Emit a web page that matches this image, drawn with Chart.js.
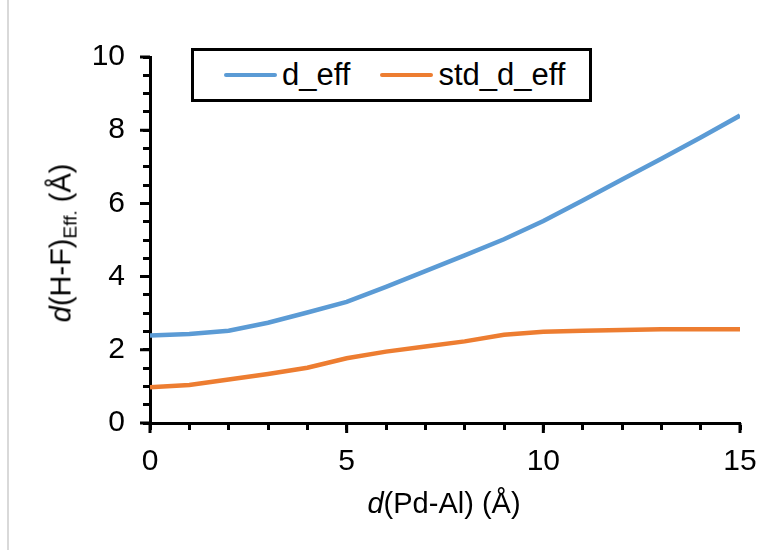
<!DOCTYPE html>
<html>
<head>
<meta charset="utf-8">
<script src="https://cdn.jsdelivr.net/npm/chart.js@4"></script>
<style>
  html, body { margin: 0; padding: 0; background: #fff; }
  #wrap { position: relative; width: 781px; height: 550px; font-family: "Liberation Sans", Arial, sans-serif; }
  #wrap::before { content: ""; position: absolute; left: 7px; top: 0; width: 2px; height: 550px; background: #d9d9d9; }
  #legend { position: absolute; left: 191px; top: 48px; width: 395px; height: 48px; border: 3px solid #000; background: #fff;
            display: flex; align-items: center; font-size: 31px; color: #000; }
  #legend .item { display: flex; align-items: center; margin-left: 30px; }
  #legend .item + .item { margin-left: 30px; }
  #legend .swatch { width: 53px; height: 4px; margin-right: 5px; border-radius: 2px; }
  .axis-title { position: absolute; font-size: 29px; color: #000; white-space: nowrap; }
  #xTitle { left: 444px; top: 503px; transform: translate(-50%, -50%); }
  #yTitle { left: 63px; top: 243px; transform: translate(-50%, -50%) rotate(-90deg); }
  #yTitle sub { font-size: 19px; vertical-align: -6px; }
</style>
</head>
<body>
<div id="wrap">
  <canvas id="grafico" width="781" height="550"></canvas>
  <div id="legend"></div>
  <div class="axis-title" id="xTitle"><i>d</i>(Pd-Al) (Å)</div>
  <div class="axis-title" id="yTitle"><i>d</i>(H-F)<sub>Eff.</sub> (Å)</div>
</div>
<script>
// distances along Pd-Al (Å)
const distancias = [0, 1, 2, 3, 4, 5, 6, 7, 8, 9, 10, 11, 12, 13, 14, 15];
const dEff = [2.39, 2.43, 2.52, 2.74, 3.02, 3.31, 3.72, 4.15, 4.58, 5.02, 5.52, 6.08, 6.65, 7.22, 7.8, 8.4];
const stdDEff = [0.98, 1.04, 1.19, 1.34, 1.51, 1.77, 1.95, 2.09, 2.23, 2.41, 2.49, 2.52, 2.54, 2.56, 2.56, 2.56];

// labelled (major) ticks
const xMajor = [0, 5, 10, 15];
const yMajor = [0, 2, 4, 6, 8, 10];

const series = [
  { label: "d_eff", data: dEff, color: "#5B9BD5" },
  { label: "std_d_eff", data: stdDEff, color: "#ED7D31" }
];

// major ticks a bit longer than the minor ones
const majorTicks = {
  id: "majorTicks",
  afterDraw(chart) {
    const { ctx, scales: { x, y } } = chart;
    ctx.save();
    ctx.strokeStyle = "#000";
    ctx.lineWidth = 3;
    ctx.beginPath();
    xMajor.forEach(v => {
      const px = x.getPixelForValue(v);
      ctx.moveTo(px, y.bottom);
      ctx.lineTo(px, y.bottom + 10);
    });
    yMajor.forEach(v => {
      const py = y.getPixelForValue(v);
      ctx.moveTo(x.left, py);
      ctx.lineTo(x.left - 10, py);
    });
    ctx.stroke();
    ctx.restore();
  }
};

const fonte = { family: "'Liberation Sans', Arial, sans-serif", size: 30 };

const chart = new Chart(document.getElementById("grafico"), {
  type: "line",
  data: {
    datasets: series.map(s => ({
      label: s.label,
      data: distancias.map((d, i) => ({ x: d, y: s.data[i] })),
      borderColor: s.color,
      backgroundColor: s.color,
      borderWidth: 4.5,
      pointRadius: 0,
      tension: 0,
      fill: false
    }))
  },
  options: {
    responsive: false,
    animation: false,
    layout: { padding: { top: 57, right: 41, left: 0, bottom: 0 } },
    plugins: { legend: { display: false }, tooltip: { enabled: false } },
    scales: {
      x: {
        type: "linear",
        min: 0,
        max: 15,
        afterFit: s => { s.height = 127; },
        ticks: {
          stepSize: 1,
          autoSkip: false,
          maxRotation: 0,
          color: "#000",
          font: fonte,
          padding: 14,
          callback: v => xMajor.includes(v) ? String(v) : ""
        },
        grid: { drawOnChartArea: false, drawTicks: true, tickLength: 7, tickWidth: 3, tickColor: "#000" },
        border: { color: "#000", width: 3 }
      },
      y: {
        min: 0,
        max: 10,
        afterFit: s => { s.width = 150; },
        ticks: {
          stepSize: 0.5,
          autoSkip: false,
          color: "#000",
          font: fonte,
          padding: 18,
          callback: v => yMajor.includes(v) ? String(v) : ""
        },
        grid: { drawOnChartArea: false, drawTicks: true, tickLength: 7, tickWidth: 3, tickColor: "#000" },
        border: { color: "#000", width: 3 }
      }
    }
  },
  plugins: [majorTicks]
});

// legend built from the datasets
const legendEl = document.getElementById("legend");
chart.data.datasets.forEach(ds => {
  const item = document.createElement("div");
  item.className = "item";
  item.innerHTML = `<span class="swatch" style="background:${ds.borderColor}"></span><span>${ds.label}</span>`;
  legendEl.appendChild(item);
});
</script>
</body>
</html>
